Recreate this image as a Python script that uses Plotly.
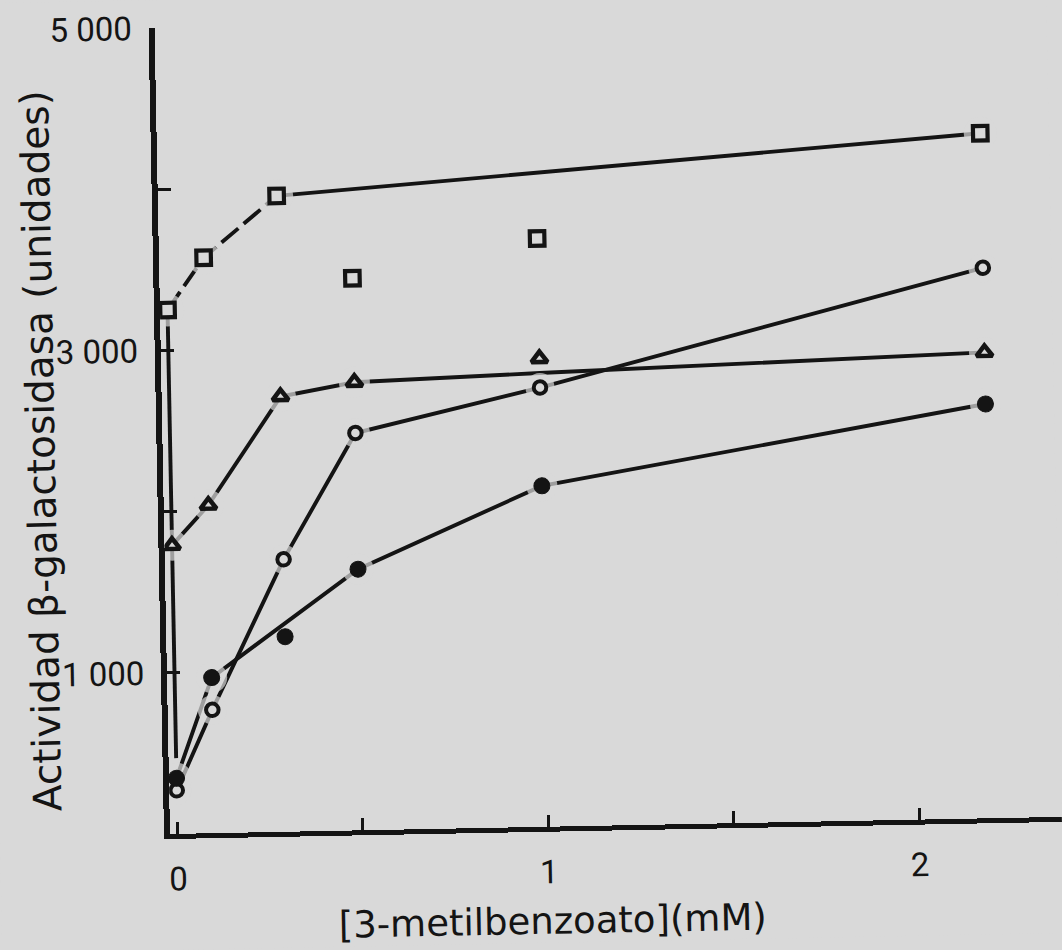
import plotly.graph_objects as go

# 3-methylbenzoate concentration (mM)
conc = [0, 0.1, 0.3, 0.5, 1.0, 2.2]

# beta-galactosidase activity (units) for the four series
act_square = [3250, 3570, 3945, 3425, 3650, 4250]
act_triangle = [1790, 2035, 2700, 2780, 2905, 2890]
act_open = [270, 765, 1690, 2465, 2725, 3415]
act_filled = [345, 965, 1210, 1620, 2115, 2570]

# hand-drawn trend curves
curve_square_x = [0, 0, 0.1, 0.3, 2.2]
curve_square_y = [470, 3250, 3570, 3945, 4250]
curve_triangle_x = [0, 0.1, 0.3, 0.5, 1.0, 2.2]
curve_triangle_y = [1790, 2035, 2700, 2780, 2815, 2890]
curve_open_x = conc
curve_open_y = act_open
curve_filled_x = [0, 0.1, 0.5, 1.0, 2.2]
curve_filled_y = [345, 965, 1620, 2115, 2570]

x_tickvals = [0, 0.5, 1, 1.5, 2]
x_ticktext = ["0", "", "1", "", "2"]
y_tickvals = [1000, 2000, 3000, 4000, 5000]
y_ticktext = ["1 000", "", "3 000", "", "5 000"]

INK = "#141414"
PAPER = "#d9d9d9"
LW = 3.9

fig = go.Figure()


def curve(x, y, dash="solid"):
    fig.add_trace(go.Scatter(x=x, y=y, mode="lines",
                             line=dict(color=INK, width=LW, dash=dash),
                             hoverinfo="skip", showlegend=False))


# curves
curve(curve_square_x[0:2], curve_square_y[0:2])
curve(curve_square_x[1:4], curve_square_y[1:4], dash="22px,7px")
curve(curve_square_x[3:5], curve_square_y[3:5])
curve(curve_triangle_x, curve_triangle_y)
curve(curve_open_x, curve_open_y)
curve(curve_filled_x, curve_filled_y)


def halo(y, sizes):
    # paper-coloured discs that open a small gap in the lines around each symbol
    fig.add_trace(go.Scatter(x=conc, y=y, mode="markers",
                             marker=dict(symbol="circle", color=PAPER, size=sizes,
                                         line=dict(width=0)),
                             hoverinfo="skip", showlegend=False))


halo(act_square, [33, 33, 33, 0, 0, 33])
halo(act_triangle, [31, 31, 31, 31, 0, 31])
halo(act_open, [29, 29, 29, 29, 29, 29])
halo(act_filled, [31, 31, 0, 31, 31, 31])


def symbols(y, symbol, size, fill, width):
    fig.add_trace(go.Scatter(x=conc, y=y, mode="markers",
                             marker=dict(symbol=symbol, size=size, color=fill,
                                         line=dict(color=INK, width=width)),
                             hoverinfo="skip", showlegend=False))


symbols(act_square, "square", 14.5, PAPER, 4.2)
symbols(act_triangle, "triangle-up", 14, PAPER, 4.6)
symbols(act_open, "circle", 12.5, PAPER, 4)
symbols(act_filled, "circle", 16, INK, 1)

tick_font = dict(family="Roboto", size=33, color=INK)

fig.update_layout(
    width=1062, height=950,
    margin=dict(l=170, r=0, t=28, b=116),
    paper_bgcolor=PAPER, plot_bgcolor=PAPER,
    showlegend=False,
    xaxis=dict(range=[-0.0205, 2.3845], showgrid=False, zeroline=False,
               showline=True, linecolor=INK, linewidth=5,
               tickvals=x_tickvals, ticktext=x_ticktext,
               ticks="inside", ticklen=12, tickwidth=2.5, tickcolor=INK,
               tickfont=tick_font, ticklabelstandoff=12),
    yaxis=dict(range=[0, 5000], showgrid=False, zeroline=False,
               showline=True, linecolor=INK, linewidth=6,
               tickvals=y_tickvals, ticktext=y_ticktext,
               ticks="inside", ticklen=13, tickwidth=3, tickcolor=INK,
               tickfont=tick_font, ticklabelstandoff=10),
    annotations=[
        dict(text="Actividad β-galactosidasa (unidades)", textangle=-90,
             xref="paper", yref="paper", x=-0.1357, y=0.479,
             xanchor="center", yanchor="middle", showarrow=False,
             font=dict(family="DejaVu Sans", size=39, color=INK)),
        dict(text="[3-metilbenzoato](mM)",
             xref="paper", yref="paper", x=0.427, y=-0.117,
             xanchor="center", yanchor="middle", showarrow=False,
             font=dict(family="DejaVu Sans", size=37, color=INK)),
    ],
)

# the printed figure sits slightly askew on the page
post = """
var gd = document.getElementById('{plot_id}');
document.documentElement.style.background = '#d9d9d9';
document.body.style.background = '#d9d9d9';
gd.style.transformOrigin = '170px 834px';
gd.style.transform = 'rotate(-1.1deg)';
"""

fig.write_html("out.html", config={"displayModeBar": False}, post_script=post)
